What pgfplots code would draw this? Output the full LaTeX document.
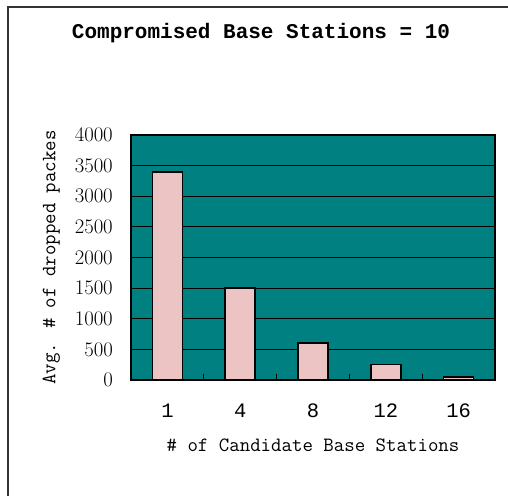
\documentclass[border=0pt]{standalone}
\usepackage{fontspec}
\setmainfont{Liberation Mono}
\usepackage{pgfplots}
\pgfplotsset{compat=1.18}
\definecolor{bgteal}{HTML}{008080}
\definecolor{barpink}{RGB}{236,196,196}
\begin{document}
\begin{tikzpicture}[x=1pt,y=1pt]
\useasboundingbox (0,0) rectangle (508,495);
% frame around the chart (only left and top edges fall inside the page)
\draw[line width=1.3pt, black!80] (8,-5) -- (8,488) -- (515,488);
\node[font=\fontsize{21}{24}\selectfont\bfseries] at (261,462) {Compromised Base Stations = 10};
\begin{axis}[
  at={(131pt,115pt)}, anchor=south west,
  scale only axis, width=364pt, height=245pt,
  ymin=0, ymax=4000, xmin=-0.5, xmax=4.5,
  ytick={0,500,...,4000},
  xtick={0,...,4}, xticklabels={1,4,8,12,16},
  /pgf/number format/1000 sep={},
  major tick length=0pt,
  minor xtick={0.5,1.5,2.5,3.5}, minor tick length=6pt,
  tick align=inside, xtick pos=lower, ytick pos=left,
  ymajorgrids, grid style={black, line width=0.9pt},
  axis background/.style={fill=bgteal},
  axis line style={black, line width=1.5pt},
  every minor tick/.style={black, line width=1pt},
  tick label style={font=\fontsize{20.5}{24}\selectfont},
  xticklabel style={anchor=center, yshift=-31pt},
  yticklabel style={anchor=east, inner sep=0pt, xshift=-18pt},
  label style={font=\ttfamily\fontsize{20.3}{23}\selectfont},
  xlabel={\# of Candidate Base Stations},
  ylabel={Avg. \# of dropped packes},
  xlabel style={at={(axis description cs:0.5,-0.265)}, anchor=center},
  ylabel style={at={(axis description cs:-0.219,0.5)}, anchor=center},
]
\addplot[ybar, bar width=30pt, fill=barpink, draw=black, line width=1.6pt]
  coordinates {(0,3400) (1,1500) (2,600) (3,250) (4,50)};
\end{axis}
\end{tikzpicture}
\end{document}
